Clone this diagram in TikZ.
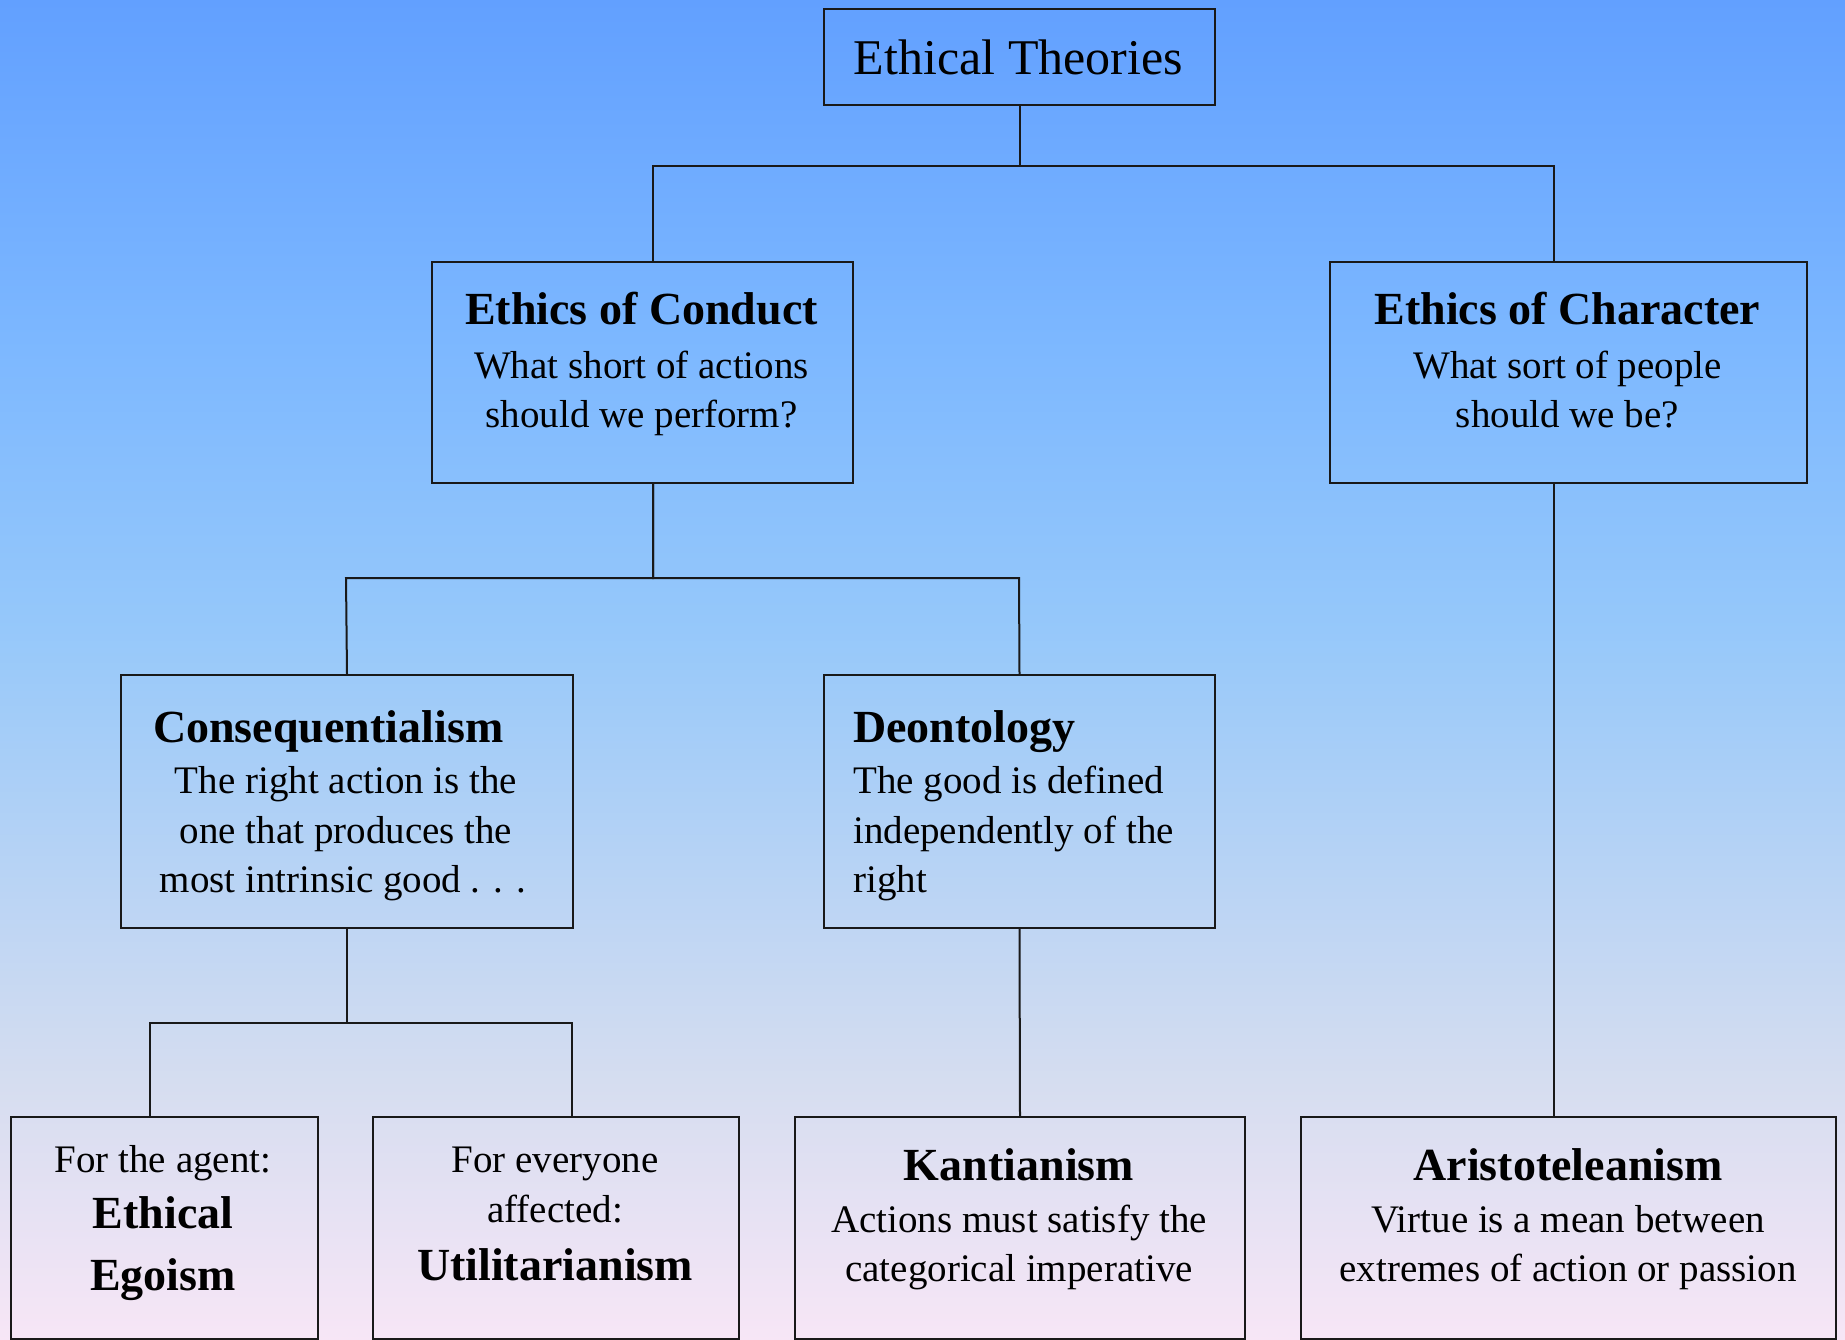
\documentclass[tikz,border=0pt]{standalone}
\usepackage{fontspec}
\setmainfont{Liberation Serif}
\definecolor{bgA}{RGB}{98,160,255}
\definecolor{bgB}{RGB}{125,184,255}
\definecolor{bgC}{RGB}{150,200,250}
\definecolor{bgD}{RGB}{213,221,240}
\definecolor{bgE}{RGB}{247,230,246}
\definecolor{ink}{RGB}{25,25,25}
\begin{document}
\begin{tikzpicture}[x=1pt,y=-1pt,
  bx/.style={draw=ink, line width=2pt, inner sep=0pt, anchor=north west, rectangle},
  conn/.style={draw=ink, line width=2pt},
  ttl/.style={font=\fontsize{50}{60}\selectfont, inner sep=0pt, anchor=base, text=black},
  hd/.style={font=\fontsize{46}{56}\selectfont\bfseries, inner sep=0pt, anchor=base, text=black},
  bd/.style={font=\fontsize{39}{49}\selectfont, inner sep=0pt, anchor=base, text=black}]
\useasboundingbox (0,0) rectangle (1845,1340);
% background gradient
\shade[top color=bgA, bottom color=bgB] (0,0) rectangle (1845,351);
\shade[top color=bgB, bottom color=bgC] (0,350) rectangle (1845,631);
\shade[top color=bgC, bottom color=bgD] (0,630) rectangle (1845,1081);
\shade[top color=bgD, bottom color=bgE] (0,1080) rectangle (1845,1340);

% boxes
\node[bx, minimum width=391pt, minimum height=96pt] (top) at (823,8) {};
\node[bx, minimum width=421pt, minimum height=221pt] (conduct) at (431,261) {};
\node[bx, minimum width=477pt, minimum height=221pt] (character) at (1329,261) {};
\node[bx, minimum width=452pt, minimum height=253pt] (conseq) at (120,674) {};
\node[bx, minimum width=391pt, minimum height=253pt] (deont) at (823,674) {};
\node[bx, minimum width=307pt, minimum height=222pt] (egoism) at (9.5,1116) {};
\node[bx, minimum width=366pt, minimum height=222pt] (util) at (372,1116) {};
\node[bx, minimum width=450pt, minimum height=222pt] (kant) at (794,1116) {};
\node[bx, minimum width=535pt, minimum height=222pt] (arist) at (1300,1116) {};

% texts
\node[ttl] (t0) at (1018.5,75) {Ethical Theories};

\node[hd] (c0) at (641.5,325) {Ethics of Conduct};
\node[bd] (c1) at (641.5,378) {What short of actions};
\node[bd] (c2) at (641.5,427) {should we perform?};

\node[hd] (h0) at (1567.5,325) {Ethics of Character};
\node[bd] (h1) at (1567.5,378) {What sort of people};
\node[bd] (h2) at (1567.5,427) {should we be?};

\node[hd, anchor=base west] (q0) at (153,742) {Consequentialism};
\node[bd] (q1) at (346,793) {The right action is the};
\node[bd] (q2) at (346,843) {one that produces the};
\node[bd] (q3) at (343,892) {most intrinsic good . . .};

\node[hd, anchor=base west] (d0) at (853,742) {Deontology};
\node[bd, anchor=base west] (d1) at (853,793) {The good is defined};
\node[bd, anchor=base west] (d2) at (853,843) {independently of the};
\node[bd, anchor=base west] (d3) at (853,892) {right};

\node[bd] (e1) at (163,1172) {For the agent:};
\node[hd] (e2) at (163,1228) {Ethical};
\node[hd] (e3) at (163,1290) {Egoism};

\node[bd] (u1) at (555,1172) {For everyone};
\node[bd] (u2) at (555,1222) {affected:};
\node[hd] (u3) at (555,1280) {Utilitarianism};

\node[hd] (k1) at (1019,1180) {Kantianism};
\node[bd] (k2) at (1019,1232) {Actions must satisfy the};
\node[bd] (k3) at (1019,1281) {categorical imperative};

\node[hd] (a1) at (1568,1180) {Aristoteleanism};
\node[bd] (a2) at (1568,1232) {Virtue is a mean between};
\node[bd] (a3) at (1568,1281) {extremes of action or passion};

% junction coordinates
\coordinate (j0) at (653,166);
\coordinate (j1) at (1554,166);
\coordinate (j2) at (346,578);
\coordinate (j3) at (1019,578);
\coordinate (j4) at (149.5,1022.5);
\coordinate (j5) at (572,1022.5);

% connectors
\draw[conn] (top.south) |- (j0) -- (conduct.north -| j0);
\draw[conn] (top.south) |- (j1) -- (character.north -| j1);
\draw[conn] (conduct.south -| j0) |- (j2) -- (conseq.north);
\draw[conn] (conduct.south -| j0) |- (j3) -- (deont.north);
\draw[conn] (conseq.south) |- (j4) -- (egoism.north -| j4);
\draw[conn] (conseq.south) |- (j5) -- (util.north -| j5);
\draw[conn] (deont.south) -- (kant.north);
\draw[conn] (character.south -| j1) -- (arist.north -| j1);
\end{tikzpicture}
\end{document}
